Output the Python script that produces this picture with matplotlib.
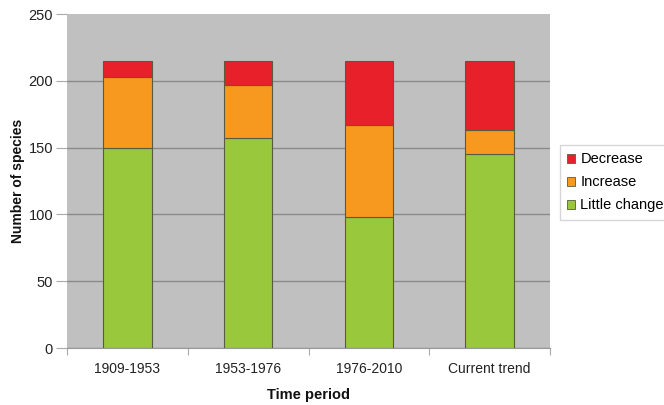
import matplotlib
matplotlib.use("Agg")
import matplotlib.pyplot as plt
import numpy as np

plt.rcParams['font.family'] = ['Liberation Sans', 'DejaVu Sans']

periods = ["1909-1953", "1953-1976", "1976-2010", "Current trend"]
little_change = [150, 157, 98, 145]
increase = [53, 40, 69, 18]
decrease = [12, 18, 48, 52]

c_little = "#99c83c"
c_increase = "#f7991e"
c_decrease = "#e8202a"

W, H = 664, 405
fig = plt.figure(figsize=(W / 100, H / 100), dpi=100)
ax = fig.add_axes([67 / W, 1 - 348 / H, (550 - 67) / W, (348 - 14) / H])
ax.set_facecolor("#c0c0c0")

x = np.arange(len(periods))
w = 0.4
edge = dict(edgecolor="#5a5a40", linewidth=0.8)
b1 = ax.bar(x, little_change, w, color=c_little, label="Little change", zorder=3, **edge)
b2 = ax.bar(x, increase, w, bottom=little_change, color=c_increase, label="Increase", zorder=3, **edge)
bottom2 = [a + b for a, b in zip(little_change, increase)]
b3 = ax.bar(x, decrease, w, bottom=bottom2, color=c_decrease, label="Decrease", zorder=3, **edge)

ax.set_xlim(-0.5, len(periods) - 0.5)
ax.set_ylim(0, 250)
ax.set_yticks(range(0, 251, 50))
ax.yaxis.grid(True, color="#8a8a8a", linewidth=1.0, zorder=1)
ax.set_axisbelow(True)
ax.get_ygridlines()[-1].set_visible(False)

# category ticks sit between the groups, labels centred under bars
ax.set_xticks(np.arange(-0.5, len(periods)), minor=False)
ax.set_xticklabels([""] * (len(periods) + 1))
ax.set_xticks(x, minor=True)
ax.set_xticklabels(periods, minor=True)
ax.tick_params(axis="x", which="major", length=5, color="#aaaaaa", direction="out")
ax.tick_params(axis="x", which="minor", length=0, pad=10, labelsize=10, labelcolor="#222222")
ax.tick_params(axis="y", length=8, color="#aaaaaa", labelsize=10.5, labelcolor="#222222", pad=2)

for s in ["top", "right", "left"]:
    ax.spines[s].set_visible(False)
ax.spines["bottom"].set_color("#999999")

fig.text(18 / W, 1 - 181 / H, "Number of species", rotation=90, fontsize=10,
         fontweight="bold", ha="center", va="center", color="#111111")
ax.set_xlabel("Time period", fontsize=10.5, fontweight="bold", labelpad=9, color="#111111")

handles = [b3, b2, b1]
leg = fig.legend(handles, ["Decrease", "Increase", "Little change"],
                 loc="upper left", bbox_to_anchor=(560 / W, 1 - 145 / H),
                 borderaxespad=0, frameon=True, fontsize=10.5,
                 handlelength=0.55, handleheight=0.55,
                 handletextpad=0.35, labelspacing=0.62, borderpad=0.5,
                 fancybox=False, edgecolor="#cccccc")
for h in leg.legend_handles:
    h.set_linewidth(0.6)

fig.savefig("out.png", dpi=100, facecolor="white")
